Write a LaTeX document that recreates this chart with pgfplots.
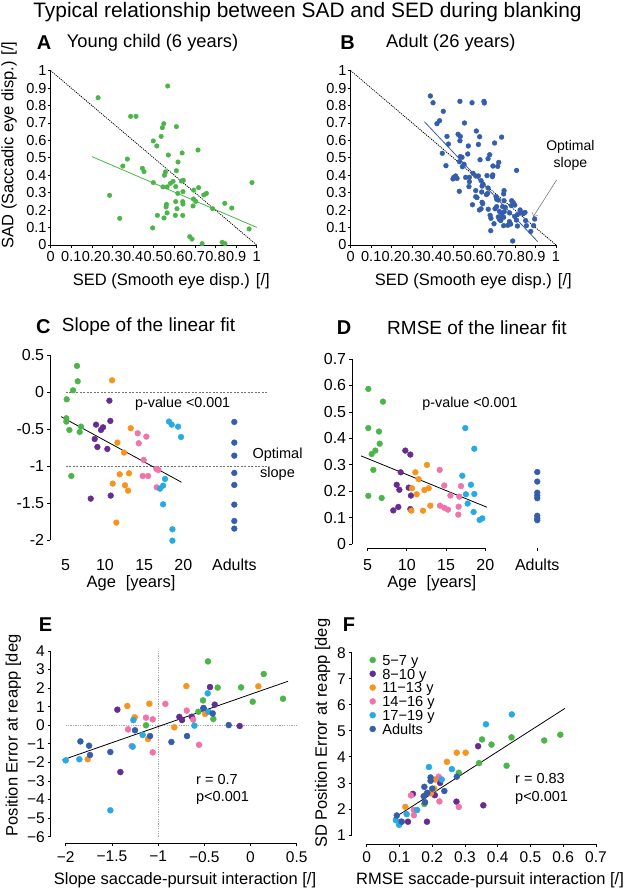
\documentclass[border=0pt]{standalone}
\usepackage{fontspec}
\setmainfont{Liberation Sans}
\usepackage{pgfplots}
\pgfplotsset{compat=1.18}
\usetikzlibrary{arrows.meta}

\definecolor{cgreen}{RGB}{76,181,73}
\definecolor{cpurple}{RGB}{102,45,145}
\definecolor{corange}{RGB}{247,148,29}
\definecolor{cpink}{RGB}{238,116,170}
\definecolor{ccyan}{RGB}{39,170,225}
\definecolor{cblue}{RGB}{52,94,172}

\newcommand\fs[1]{\fontsize{#1}{#1}\selectfont}

\pgfplotsset{
  panel/.style={
    anchor=south west, scale only axis, clip=false,
    separate axis lines, axis lines*=left,
    axis line style={line width=0.8pt},
    every tick/.style={line width=0.8pt, black},
    tick align=outside, major tick length=3pt,
    tick label style={inner sep=1pt},
    every axis x label/.style={anchor=center, font=\fs{16.5}},
    every axis y label/.style={anchor=center, rotate=90, font=\fs{16.5}},
  },
  dot/.style 2 args={only marks, mark=*, mark size=#2, color=#1,
    mark options={draw=none, fill=#1}},
  fit/.style={no marks, line width=0.8pt, #1},
}

\begin{document}
\begin{tikzpicture}
\useasboundingbox (0pt,0pt) rectangle (627pt,890pt);

% titles and panel letters
\node[inner sep=0pt, font=\fs{20.9}] at (307.5pt,878.3pt) {Typical relationship between SAD and SED during blanking};
\node[inner sep=0pt, font=\fs{20}\bfseries] at (44pt,847pt) {A};
\node[inner sep=0pt, anchor=west, font=\fs{18.3}] at (66.7pt,847pt) {Young child (6 years)};
\node[inner sep=0pt, font=\fs{20}\bfseries] at (347.5pt,847pt) {B};
\node[inner sep=0pt, anchor=west, font=\fs{18.3}] at (386pt,847pt) {Adult (26 years)};
\node[inner sep=0pt, font=\fs{20}\bfseries] at (43.3pt,563.3pt) {C};
\node[inner sep=0pt, anchor=west, font=\fs{19}] at (61.7pt,563.3pt) {Slope of the linear fit};
\node[inner sep=0pt, font=\fs{20}\bfseries] at (344pt,562pt) {D};
\node[inner sep=0pt, anchor=west, font=\fs{19}] at (387pt,562pt) {RMSE of the linear fit};
\node[inner sep=0pt, font=\fs{20}\bfseries] at (45.5pt,265pt) {E};
\node[inner sep=0pt, font=\fs{20}\bfseries] at (349pt,265pt) {F};

% ---------------- A
\begin{axis}[panel, at={(50.7pt,645pt)}, width=206pt, height=174.3pt,
  xmin=0, xmax=1, ymin=0, ymax=1,
  xtick={0,0.1,0.2,0.3,0.4,0.5,0.6,0.7,0.8,0.9,1},
  xticklabels={0,0.1,0.2,0.3,0.4,0.5,0.6,0.7,0.8,0.9,1},
  ytick={0,0.1,0.2,0.3,0.4,0.5,0.6,0.7,0.8,0.9,1},
  yticklabels={0,0.1,0.2,0.3,0.4,0.5,0.6,0.7,0.8,0.9,1},
  tick label style={font=\fs{14.5}}, xticklabel shift=2.5pt,
  xlabel={SED (Smooth eye disp.) [/]},
  xlabel style={at={(axis description cs:0.5854,-0.2106)}},
  ylabel={SAD (Saccadic eye disp.) [/]},
  ylabel style={at={(axis description cs:-0.2024,0.5737)}},
]
\addplot[no marks, black, line width=0.8pt, dash pattern=on 1.1pt off 1.1pt] coordinates {(0,1) (1,0)};
\addplot[dot={cgreen}{2.3pt}] coordinates {
(0.230,0.845)(0.568,0.912)(0.388,0.738)(0.414,0.738)(0.549,0.696)(0.542,0.673)
(0.610,0.679)(0.536,0.623)(0.498,0.597)(0.515,0.568)(0.715,0.545)(0.638,0.528)
(0.571,0.516)(0.372,0.493)(0.350,0.453)(0.618,0.476)(0.445,0.440)(0.453,0.421)
(0.610,0.426)(0.557,0.419)(0.552,0.400)(0.498,0.358)(0.644,0.371)(0.634,0.367)
(0.594,0.365)(0.581,0.354)(0.565,0.333)(0.545,0.333)(0.607,0.335)(0.617,0.296)
(0.642,0.306)(0.694,0.315)(0.718,0.329)(0.756,0.296)(0.743,0.287)(0.977,0.358)
(0.286,0.285)(0.693,0.264)(0.704,0.250)(0.641,0.249)(0.642,0.235)(0.607,0.249)
(0.691,0.224)(0.562,0.233)(0.560,0.218)(0.613,0.208)(0.845,0.239)(0.879,0.212)
(0.786,0.208)(0.518,0.170)(0.565,0.184)(0.605,0.170)(0.641,0.170)(0.550,0.155)
(0.335,0.153)(0.495,0.098)(0.963,0.092)(0.675,0.048)(0.686,0.034)(0.735,0.008)
(0.832,0.015)(0.846,0.008)};
\addplot[fit={cgreen}] coordinates {(0.2,0.507) (1.0,0.101)};
\end{axis}

% ---------------- B
\begin{axis}[panel, at={(350.7pt,645pt)}, width=205.3pt, height=174.3pt,
  xmin=0, xmax=1, ymin=0, ymax=1,
  xtick={0,0.1,0.2,0.3,0.4,0.5,0.6,0.7,0.8,0.9,1},
  xticklabels={0,0.1,0.2,0.3,0.4,0.5,0.6,0.7,0.8,0.9,1},
  ytick={0,0.1,0.2,0.3,0.4,0.5,0.6,0.7,0.8,0.9,1},
  yticklabels={0,0.1,0.2,0.3,0.4,0.5,0.6,0.7,0.8,0.9,1},
  tick label style={font=\fs{14.5}}, xticklabel shift=2.5pt,
  xlabel={SED (Smooth eye disp.) [/]},
  xlabel style={at={(axis description cs:0.5972,-0.2106)}},
]
\addplot[no marks, black, line width=0.8pt, dash pattern=on 1.1pt off 1.1pt] coordinates {(0,1) (1,0)};
\addplot[dot={cblue}{2.4pt}] coordinates {
(0.388,0.855)(0.401,0.816)(0.532,0.824)(0.591,0.816)(0.649,0.824)(0.651,0.815)
(0.451,0.767)(0.554,0.700)(0.433,0.713)(0.420,0.696)(0.612,0.654)(0.523,0.635)
(0.534,0.623)(0.469,0.623)(0.628,0.621)(0.735,0.619)(0.532,0.598)(0.701,0.585)
(0.476,0.579)(0.622,0.577)(0.573,0.568)(0.446,0.526)(0.570,0.522)(0.677,0.518)
(0.534,0.507)(0.542,0.503)(0.669,0.495)(0.721,0.474)(0.630,0.489)(0.529,0.478)
(0.552,0.463)(0.544,0.449)(0.693,0.453)(0.716,0.451)(0.464,0.455)(0.596,0.411)
(0.609,0.396)(0.502,0.388)(0.518,0.382)(0.560,0.388)(0.578,0.388)(0.498,0.379)
(0.622,0.396)(0.664,0.398)(0.692,0.402)(0.690,0.392)(0.808,0.428)(0.511,0.396)
(0.578,0.363)(0.635,0.369)(0.644,0.350)(0.576,0.335)(0.640,0.338)(0.669,0.327)
(0.529,0.308)(0.609,0.312)(0.638,0.304)(0.667,0.296)(0.661,0.289)(0.708,0.277)
(0.747,0.312)(0.745,0.293)(0.609,0.277)(0.615,0.272)(0.711,0.262)(0.719,0.258)
(0.747,0.254)(0.784,0.254)(0.792,0.243)(0.593,0.231)(0.640,0.245)(0.643,0.237)
(0.670,0.205)(0.703,0.208)(0.711,0.220)(0.740,0.220)(0.753,0.216)(0.782,0.226)
(0.799,0.229)(0.627,0.201)(0.635,0.208)(0.724,0.193)(0.737,0.182)(0.748,0.191)
(0.774,0.184)(0.825,0.201)(0.830,0.185)(0.812,0.174)(0.841,0.180)(0.849,0.187)
(0.734,0.168)(0.719,0.161)(0.745,0.159)(0.724,0.147)(0.799,0.163)(0.679,0.170)
(0.683,0.153)(0.731,0.140)(0.773,0.134)(0.779,0.120)(0.765,0.113)(0.807,0.143)
(0.745,0.111)(0.852,0.140)(0.896,0.149)(0.891,0.111)(0.812,0.109)(0.856,0.111)
(0.682,0.082)(0.877,0.078)(0.789,0.023)(0.698,0.122)};
\addplot[fit={cblue}] coordinates {(0.359,0.707) (0.911,0.019)};
\draw[-{Straight Barb[length=3pt]}, black!60, line width=0.5pt] (axis cs:1.003,0.373) -- (axis cs:0.889,0.162);
\node[font=\fontsize{14}{17}\selectfont, align=center, inner sep=0pt] at (axis cs:1.07,0.5135) {Optimal\\slope};
\end{axis}

% ---------------- C
\begin{axis}[panel, at={(50pt,349.7pt)}, width=219.7pt, height=185pt,
  xmin=3, xmax=31, ymin=-2, ymax=0.5,
  axis x line shift=7.7pt,
  x axis line style={draw=none}, xtick style={draw=none},
  xtick={5,10,15,20,26.49}, xticklabels={5,10,15,20,Adults},
  ytick={-2,-1.5,-1,-0.5,0,0.5}, yticklabels={-2,-1.5,-1,-0.5,0,0.5},
  tick label style={font=\fs{16}}, xticklabel shift=7pt, yticklabel shift=1.7pt,
  xlabel={Age\hspace{0.6em}[years]},
  xlabel style={at={(axis description cs:0.3687,-0.2324)}},
]
\addplot[no marks, black!55, line width=0.5pt, dash pattern=on 2pt off 1.5pt] coordinates {(5,0) (30.6,0)};
\addplot[no marks, black!55, line width=0.5pt, dash pattern=on 2pt off 1.5pt] coordinates {(5,-1) (30.6,-1)};
\addplot[dot={cgreen}{2.9pt}] coordinates {(6.44,0.356)(6.53,0.149)(5.93,0.027)(5.13,-0.095)(5.08,-0.351)(5.08,-0.396)(5.47,-0.509)(6.95,-0.464)(6.78,-0.536)(5.72,-1.131)};
\addplot[dot={cpurple}{2.9pt}] coordinates {(10.57,-0.113)(10.69,-0.387)(8.87,-0.437)(9.76,-0.473)(9.50,-0.509)(8.70,-0.631)(9.04,-0.739)(10.31,-0.766)(10.74,-1.396)(8.19,-1.437)};
\addplot[dot={corange}{2.9pt}] coordinates {(10.91,0.162)(13.29,-0.486)(11.59,-0.680)(12.44,-0.815)(11.88,-1.108)(13.07,-1.095)(10.99,-1.234)(12.56,-1.257)(12.95,-1.329)(11.46,-1.761)};
\addplot[dot={cpink}{2.9pt}] coordinates {(14.18,-0.554)(15.28,-0.599)(14.31,-0.689)(14.94,-0.914)(16.56,-1.036)(16.81,-1.050)(14.82,-1.131)(15.50,-1.131)(16.60,-1.284)};
\addplot[dot={ccyan}{2.9pt}] coordinates {(18.17,-0.396)(18.51,-0.437)(19.32,-0.464)(19.70,-0.604)(17.66,-1.171)(17.41,-1.261)(17.03,-1.302)(17.41,-1.514)(18.60,-1.851)(18.60,-2.005)};
\addplot[dot={cblue}{2.9pt}] coordinates {(26.49,-0.401)(26.49,-0.680)(26.49,-0.856)(26.49,-1.090)(26.49,-1.252)(26.49,-1.518)(26.49,-1.739)(26.49,-1.842)};
\addplot[fit={black}] coordinates {(4.41,-0.329) (19.75,-1.215)};
\node[font=\fs{14.3}, inner sep=0pt] at (axis cs:19.91,-0.162) {p-value <0.001};
\node[font=\fontsize{14.5}{19}\selectfont, align=center, inner sep=0pt] at (axis cs:32.0,-0.966) {Optimal\\slope};
\end{axis}

% ---------------- D
\begin{axis}[panel, at={(352pt,345.7pt)}, width=196pt, height=185.3pt,
  xmin=3, xmax=28, ymin=0, ymax=0.7,
  axis x line shift=3.7pt,
  x axis line style={draw=none},
  xtick={5,10,15,20,26.63}, xticklabels={5,10,15,20,Adults},
  ytick={0,0.1,0.2,0.3,0.4,0.5,0.6,0.7}, yticklabels={0,0.1,0.2,0.3,0.4,0.5,0.6,0.7},
  tick label style={font=\fs{16}}, xticklabel shift=7pt, yticklabel shift=1.7pt,
  xlabel={Age\hspace{0.6em}[years]},
  xlabel style={at={(axis description cs:0.4071,-0.2105)}},
]
\draw[line width=0.8pt] ([yshift=-3.7pt]axis cs:5,0) -- ([yshift=-3.7pt]axis cs:20,0);
\addplot[dot={cgreen}{2.9pt}] coordinates {(5.08,0.587)(6.95,0.539)(5.08,0.439)(6.44,0.426)(6.53,0.380)(5.98,0.354)(5.51,0.341)(5.72,0.281)(5.08,0.183)(6.78,0.175)};
\addplot[dot={cpurple}{2.9pt}] coordinates {(9.80,0.354)(10.44,0.339)(9.21,0.272)(8.70,0.225)(9.04,0.206)(10.23,0.214)(10.52,0.184)(8.91,0.141)(8.27,0.128)(10.44,0.133)};
\addplot[dot={corange}{2.9pt}] coordinates {(12.56,0.300)(11.08,0.272)(11.50,0.246)(10.65,0.212)(11.25,0.189)(12.23,0.205)(12.78,0.212)(10.57,0.127)(12.06,0.127)(12.99,0.146)};
\addplot[dot={cpink}{2.9pt}] coordinates {(14.18,0.281)(14.77,0.222)(16.90,0.220)(15.55,0.184)(14.22,0.146)(14.77,0.138)(15.24,0.131)(16.60,0.142)(16.56,0.112)(16.69,0.180)};
\addplot[dot={ccyan}{2.9pt}] coordinates {(17.45,0.439)(18.60,0.361)(17.07,0.259)(18.17,0.225)(17.53,0.189)(18.60,0.190)(17.75,0.154)(18.51,0.122)(19.28,0.092)(19.62,0.098)};
\addplot[dot={cblue}{2.9pt}] coordinates {(26.63,0.273)(26.63,0.237)(26.63,0.195)(26.63,0.184)(26.63,0.174)(26.63,0.108)(26.63,0.098)(26.63,0.091)};
\addplot[fit={black}] coordinates {(4.15,0.334) (20.21,0.140)};
\node[font=\fs{14.3}, inner sep=0pt] at (axis cs:18.05,0.529) {p-value <0.001};
\end{axis}

% ---------------- E
\begin{axis}[panel, at={(65.7pt,53.3pt)}, width=231pt, height=185.7pt,
  xmin=-2, xmax=0.5, ymin=-6, ymax=4,
  axis x line shift=6.6pt, axis y line shift=15pt,
  xtick={-2,-1.5,-1,-0.5,0,0.5}, xticklabels={−2,−1.5,−1,−0.5,0,0.5},
  ytick={-6,-5,-4,-3,-2,-1,0,1,2,3,4}, yticklabels={−6,−5,−4,−3,−2,−1,0,1,2,3,4},
  tick label style={font=\fs{15.5}}, xticklabel shift=3.8pt, yticklabel shift=1.7pt,
  xlabel={Slope saccade-pursuit interaction [/]},
  xlabel style={at={(axis description cs:0.5165,-0.2332)}},
  ylabel={Position Error at reapp [deg},
  ylabel style={at={(axis description cs:-0.2268,0.545)}},
]
\addplot[no marks, black!35, line width=1pt, dash pattern=on 1.2pt off 1.2pt] coordinates {(-2,0) (0.5,0)};
\addplot[no marks, black!35, line width=1pt, dash pattern=on 1.2pt off 1.2pt] coordinates {(-1,-6) (-1,4)};
\addplot[dot={cgreen}{3pt}] coordinates {(-0.460,3.44)(0.143,2.76)(-0.355,2.03)(-0.102,2.04)(0.024,1.27)(0.352,1.43)(-0.514,1.34)(-0.402,0.34)(-1.131,0.0)(-0.564,0.73)};
\addplot[dot={cpurple}{3pt}] coordinates {(-1.441,0.84)(-0.438,2.06)(-0.387,1.11)(-0.507,0.91)(-0.770,0.45)(-0.741,0.28)(-0.636,0.46)(-0.117,-0.04)(-1.408,-2.52)};
\addplot[dot={corange}{3pt}] coordinates {(-1.333,1.04)(-1.095,1.16)(-0.694,2.11)(0.085,2.10)(-0.492,0.61)(-0.824,-0.11)(-1.253,0.43)(-1.109,-0.74)(-1.762,-1.83)};
\addplot[dot={cpink}{3pt}] coordinates {(-0.921,1.15)(-0.690,0.79)(-1.325,-0.22)(-1.131,0.41)(-1.058,0.32)(-1.286,-1.12)(-1.058,-1.46)(-0.557,-1.05)(-0.62,0.30)};
\addplot[dot={ccyan}{3pt}] coordinates {(-0.463,1.72)(-1.268,0.28)(-1.167,-0.52)(-1.275,-1.15)(-0.607,-0.02)(-0.456,0.73)(-2.0,-1.89)(-1.852,-1.83)(-1.517,-4.58)};
\addplot[dot={cblue}{3pt}] coordinates {(-1.841,-0.87)(-1.747,-1.10)(-1.737,-1.60)(-1.517,-1.44)(-1.250,-0.27)(-1.087,-0.58)(-0.856,-0.90)(-0.687,-0.58)(-0.510,0.93)(-0.409,0.64)(-0.236,0.01)};
\addplot[fit={black}] coordinates {(-2.036,-1.87) (0.406,2.37)};
\node[font=\fontsize{14.5}{17.6}\selectfont, align=left, anchor=west, inner sep=0pt] at (axis cs:-0.590,-3.458) {r = 0.7\\p<0.001};
\end{axis}

% ---------------- F
\begin{axis}[panel, at={(366.7pt,55pt)}, width=229.3pt, height=182.3pt,
  xmin=0, xmax=0.7, ymin=1, ymax=8,
  axis x line shift=9pt, axis y line shift=15pt,
  xtick={0,0.1,0.2,0.3,0.4,0.5,0.6,0.7}, xticklabels={0,0.1,0.2,0.3,0.4,0.5,0.6,0.7},
  ytick={1,2,3,4,5,6,7,8}, yticklabels={1,2,3,4,5,6,7,8},
  tick label style={font=\fs{15.5}}, xticklabel shift=3pt, yticklabel shift=1.7pt,
  xlabel={RMSE saccade-pursuit interaction [/]},
  xlabel style={at={(axis description cs:0.5377,-0.2468)}},
  ylabel={SD Position Error at reapp [deg},
  ylabel style={at={(axis description cs:-0.1928,0.5579)}},
  legend style={draw=none, fill=none, at={(0.0122,0.99)}, anchor=north west,
    font=\fs{14.6}, row sep=3.3pt, inner sep=0pt,
    nodes={inner xsep=6.6pt, inner ysep=0pt, text height=10.5pt, text depth=0pt}},
  legend image code/.code={\draw[#1] plot coordinates {(0pt,0pt)};},
  legend cell align=left,
]
\addplot[dot={cgreen}{3pt}] coordinates {(0.591,4.85)(0.542,4.63)(0.442,4.75)(0.352,4.67)(0.381,4.47)(0.343,3.76)(0.427,3.66)(0.281,3.39)(0.176,2.19)};
\addplot[dot={cpurple}{3pt}] coordinates {(0.340,4.41)(0.274,2.28)(0.356,2.14)(0.184,1.51)(0.126,1.51)(0.105,1.51)(0.141,2.58)(0.208,2.53)(0.224,3.0)};
\addplot[dot={corange}{3pt}] coordinates {(0.275,4.16)(0.302,4.16)(0.245,3.81)(0.209,3.13)(0.206,2.78)(0.118,2.08)(0.196,2.60)};
\addplot[dot={cpink}{3pt}] coordinates {(0.220,3.24)(0.135,2.52)(0.222,2.29)(0.281,2.08)(0.144,1.96)(0.144,1.76)(0.183,2.60)};
\addplot[dot={ccyan}{3pt}] coordinates {(0.443,5.63)(0.364,5.25)(0.190,3.61)(0.260,3.53)(0.229,3.13)(0.122,1.80)(0.154,1.96)(0.089,1.57)(0.099,1.39)};
\addplot[dot={cblue}{3pt}] coordinates {(0.195,3.21)(0.195,3.08)(0.275,3.24)(0.237,2.69)(0.176,2.85)(0.185,2.62)(0.174,2.49)(0.178,2.26)(0.200,2.78)(0.092,1.75)(0.107,1.51)};
\addplot[fit={black}, forget plot] coordinates {(0.083,1.65) (0.605,5.86)};
\legend{5−7 y, 8−10 y, 11−13 y, 14−16 y, 17−19 y, Adults}
\node[font=\fontsize{14.5}{17.6}\selectfont, align=left, anchor=west, inner sep=0pt] at (axis cs:0.4527,2.759) {r = 0.83\\p<0.001};
\end{axis}
\end{tikzpicture}
\end{document}
